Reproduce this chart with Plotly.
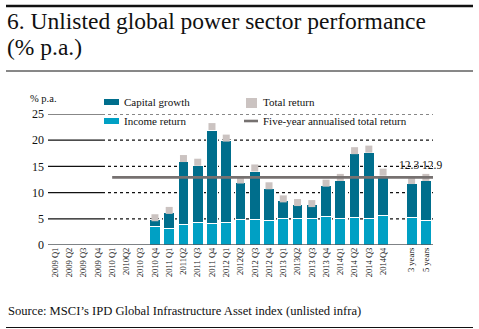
import plotly.graph_objects as go

# Quarterly categories, a spacer, then the multi-year averages
categories = ["2009 Q1", "2009 Q2", "2009 Q3", "2009 Q4",
              "2010 Q1", "2010Q2", "2010 Q3", "2010 Q4",
              "2011 Q1", "2011Q2", "2011 Q3", "2011 Q4",
              "2012 Q1", "2012Q2", "2012 Q3", "2012 Q4",
              "2013 Q1", "2013Q2", "2013 Q3", "2013 Q4",
              "2014Q1", "2014 Q2", "2014 Q3", "2014Q4",
              " ", "3 years", "5 years"]

income_return = [None] * 7 + [3.6, 3.2, 3.9, 4.3, 4.1, 4.3, 4.8, 4.8, 4.6,
                              5.0, 5.0, 5.0, 5.4, 5.0, 5.3, 5.0, 5.7,
                              None, 5.3, 4.6]
capital_growth = [None] * 7 + [1.3, 3.0, 12.1, 10.9, 17.8, 15.7, 7.2, 9.3, 6.2,
                               3.5, 2.8, 2.8, 6.0, 7.3, 12.2, 12.7, 7.6,
                               None, 6.5, 7.8]
total_return = [None] * 7 + [5.2, 6.6, 16.5, 15.8, 22.6, 20.4, 12.4, 14.7, 11.3,
                             8.8, 8.1, 7.9, 11.8, 12.9, 18.0, 18.3, 13.9,
                             None, 12.3, 12.9]
five_year_annualised = 12.9
y_ticks = [0, 5, 10, 15, 20, 25]

C_CAP = "#006e8c"
C_INC = "#00a0c4"
C_TOT = "#cbc3c1"
C_LINE = "#767170"
SERIF = "Liberation Serif"
INK = "#111111"

# Plot-area geometry (pixels)
W, H = 479, 329
L, R, T, B = 48, 433, 114, 245


def px(x):
    return (x - L) / (R - L)


def py(y):
    return (B - y) / (B - T)


fig = go.Figure()
fig.add_bar(x=categories, y=income_return, marker=dict(color=C_INC, line=dict(color="white", width=1)),
            name="Income return", showlegend=False)
fig.add_bar(x=categories, y=capital_growth, marker=dict(color=C_CAP, line=dict(color="white", width=1)),
            name="Capital growth", showlegend=False)
fig.add_scatter(x=categories, y=total_return, mode="markers",
                marker=dict(symbol="square", size=7, color=C_TOT),
                name="Total return", showlegend=False, cliponaxis=False)

shapes = []
# Gridlines: solid on the empty left stretch, dotted across the bars
for t in y_ticks[1:]:
    shapes.append(dict(type="line", xref="paper", yref="y", x0=0, x1=px(102), y0=t, y1=t,
                       line=dict(color=INK, width=1.2)))
    shapes.append(dict(type="line", xref="paper", yref="y", x0=px(102), x1=1, y0=t, y1=t,
                       line=dict(color=INK, width=1.2, dash="dot"), layer="below"))
# Baseline
shapes.append(dict(type="line", xref="paper", yref="y", x0=0, x1=1, y0=0, y1=0,
                   line=dict(color="#555a5e", width=1.6)))
# Five-year annualised total return
shapes.append(dict(type="line", xref="x", yref="y", x0=4, x1=26.5,
                   y0=five_year_annualised, y1=five_year_annualised,
                   line=dict(color=C_LINE, width=2.6)))
# Rules
shapes.append(dict(type="line", xref="paper", yref="paper", x0=px(6), x1=px(473), y0=py(6), y1=py(6),
                   line=dict(color="#111111", width=2.6)))
shapes.append(dict(type="line", xref="paper", yref="paper", x0=px(6), x1=px(473), y0=py(71), y1=py(71),
                   line=dict(color="#111111", width=1)))
shapes.append(dict(type="line", xref="paper", yref="paper", x0=px(6), x1=px(473), y0=py(327.5), y1=py(327.5),
                   line=dict(color="#111111", width=1)))
# Legend swatches
shapes.append(dict(type="rect", xref="paper", yref="paper", x0=px(104), x1=px(119), y0=py(105), y1=py(99),
                   fillcolor=C_CAP, line=dict(width=0)))
shapes.append(dict(type="rect", xref="paper", yref="paper", x0=px(104), x1=px(119), y0=py(124), y1=py(118),
                   fillcolor=C_INC, line=dict(width=0)))
shapes.append(dict(type="rect", xref="paper", yref="paper", x0=px(246), x1=px(257), y0=py(108), y1=py(98),
                   fillcolor=C_TOT, line=dict(width=0)))
shapes.append(dict(type="line", xref="paper", yref="paper", x0=px(244), x1=px(258), y0=py(121), y1=py(121),
                   line=dict(color=C_LINE, width=2.6)))

annotations = []


def text(x, y, s, size, anchor="left", color=INK):
    annotations.append(dict(xref="paper", yref="paper", x=px(x), y=py(y), text=s, showarrow=False,
                            xanchor=anchor, yanchor="middle",
                            font=dict(family=SERIF, size=size, color=color)))


text(5, 21, "6. Unlisted global power sector performance", 23.5)
text(5, 47, "(% p.a.)", 23.5)
text(28, 99, "% p.a.", 10.5)
text(122, 102, "Capital growth", 11)
text(122, 121, "Income return", 11)
text(261, 102, "Total return", 11)
text(261, 121, "Five-year annualised total return", 11)
text(6, 311, "Source: MSCI\u2019s IPD Global Infrastructure Asset index (unlisted infra)", 12.6)

# Value labels for the multi-year averages, set on a common line
label_level = max(total_return[-2], total_return[-1])
for cat, val, shift in [("3 years", total_return[-2], -3), ("5 years", total_return[-1], 6)]:
    annotations.append(dict(xref="x", yref="y", x=cat, y=label_level, text=f"{val:.1f}", showarrow=False,
                            xanchor="center", yanchor="bottom", xshift=shift, yshift=4,
                            font=dict(family=SERIF, size=11.5, color=INK)))

fig.update_layout(
    width=W, height=H,
    margin=dict(l=L, r=W - R, t=T, b=H - B),
    paper_bgcolor="white", plot_bgcolor="white",
    barmode="stack", bargap=0.24,
    showlegend=False,
    shapes=shapes, annotations=annotations,
    xaxis=dict(type="category", categoryorder="array", categoryarray=categories,
               range=[-0.5, 26.5], tickangle=-90, showgrid=False, showline=False,
               ticks="", tickfont=dict(family=SERIF, size=8.5, color=INK), fixedrange=True),
    yaxis=dict(range=[0, 25], tickvals=y_ticks, showgrid=False, zeroline=False, showline=False,
               ticks="", ticklabelstandoff=3,
               tickfont=dict(family=SERIF, size=12, color=INK), fixedrange=True),
)

fig.write_html("out.html")
